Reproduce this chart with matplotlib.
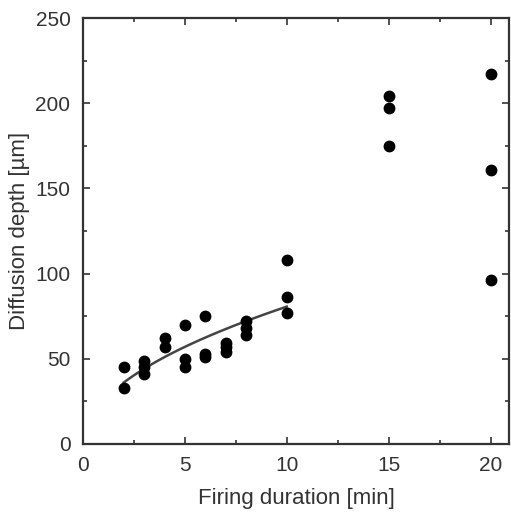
import numpy as np
import matplotlib.pyplot as plt
from matplotlib.ticker import MultipleLocator

plt.rcParams['font.family'] = ['Liberation Sans', 'DejaVu Sans']

# measured points: firing duration [min] vs diffusion depth [um]
x_short = [2, 2, 3, 3, 3, 4, 4, 5, 5, 5, 6, 6, 6, 7, 7, 7, 8, 8, 8, 10, 10, 10]
y_short = [45, 33, 49, 45, 41, 62, 57, 70, 50, 45, 75, 53, 51, 59, 57, 54, 72, 68, 64, 108, 86, 77]
x_long = [15, 15, 15, 20, 20, 20]
y_long = [204, 197, 175, 217, 161, 96]

# fitted curve y = a * x^b over the short durations
fit_a = 25.5
fit_b = 0.5
fit_range = (2, 10)

fig = plt.figure(figsize=(5.11, 5.17), dpi=100)
ax = fig.add_axes([0.1624, 0.1412, 0.8336, 0.8238])

xf = np.linspace(fit_range[0], fit_range[1], 100)
ax.plot(xf, fit_a * xf ** fit_b, color='#444444', lw=1.8, zorder=2)
ax.plot(x_short + x_long, y_short + y_long, 'o', color='black', ms=7.5, zorder=3)

ax.set_xlim(0, 20.9)
ax.set_ylim(0, 250)
ax.xaxis.set_major_locator(MultipleLocator(5))
ax.xaxis.set_minor_locator(MultipleLocator(2.5))
ax.yaxis.set_major_locator(MultipleLocator(50))
ax.yaxis.set_minor_locator(MultipleLocator(25))
ax.tick_params(which='both', direction='in', top=True, right=True,
               colors='#333333', labelsize=15, width=1.2)
ax.tick_params(which='major', length=5, pad=9)
ax.tick_params(which='minor', length=3)
for s in ax.spines.values():
    s.set_linewidth(1.6)
    s.set_color('#333333')

ax.set_xlabel('Firing duration [min]', fontsize=16, color='#333333', labelpad=9)
ax.set_ylabel('Diffusion depth [µm]', fontsize=16, color='#333333', labelpad=4)

plt.savefig('out.png', dpi=100)
